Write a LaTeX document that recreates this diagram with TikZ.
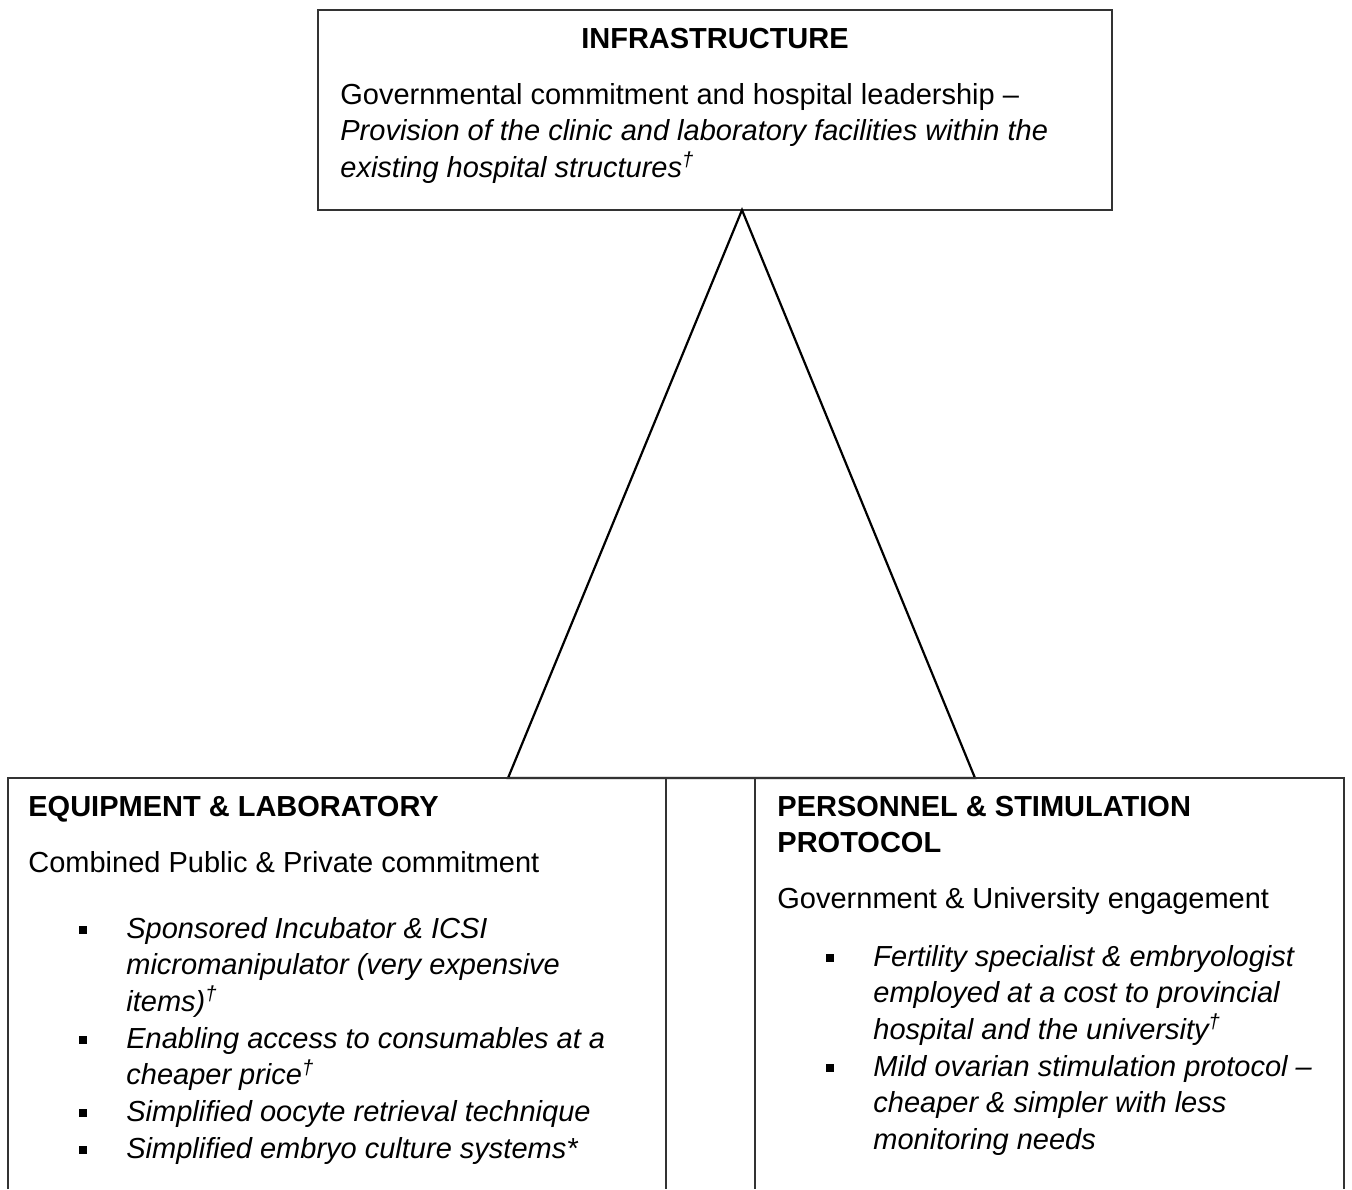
\documentclass[tikz,border=0pt]{standalone}
\usepackage{fontspec}
\setmainfont{Liberation Sans}
\begin{document}
\begin{tikzpicture}[x=0.5pt,y=-0.5pt,
  frame/.style={draw=black!80, line width=0.7pt},
  tri/.style={draw=black, line width=1.1pt, line join=miter},
  txt/.style={anchor=base west, inner sep=0pt, align=left, font=\fontsize{14.5}{18.35}\selectfont},
  head/.style={txt, font=\fontsize{14.5}{18.35}\selectfont\bfseries},
  itxt/.style={txt, font=\fontsize{14.5}{18.35}\selectfont\itshape},
  sq/.style={fill=black, draw=none, rectangle, inner sep=0pt, minimum width=3.6pt, minimum height=4pt}]
\useasboundingbox (0,0) rectangle (1352,1189);

% top box (multi-line nodes are anchored at the baseline of their last line)
\draw[frame] (318,10) rectangle (1112,210);
\node[head, anchor=base] (infratitle) at (715,48) {INFRASTRUCTURE};
\node[txt] (infratext) at (340,177.4) {Governmental commitment and hospital leadership –\\
\textit{Provision of the clinic and laboratory facilities within the}\\
\textit{existing hospital structures\textsuperscript{\textdagger}}};

% triangle
\coordinate (apex) at (742,210);
\coordinate (bl) at (508,778);
\coordinate (br) at (975,778);
\draw[tri] (apex) -- (bl) -- (br) -- cycle;

% bottom table
\draw[frame] (8,1189) -- (8,778) -- (1344,778) -- (1344,1189);
\draw[frame] (666,778) -- (666,1189);
\draw[frame] (755,778) -- (755,1189);

% left column
\node[head] (eqtitle) at (28,816) {EQUIPMENT \& LABORATORY};
\node[txt] (eqsub) at (28,872) {Combined Public \& Private commitment};
\node[itxt] (eqlist) at (126,1158.2) {Sponsored Incubator \& ICSI\\
micromanipulator (very expensive\\
items)\textsuperscript{\textdagger}\\
Enabling access to consumables at a\\
cheaper price\textsuperscript{\textdagger}\\
Simplified oocyte retrieval technique\\
Simplified embryo culture systems*};
\node[sq] (eqb1) at (83,930) {};
\node[sq] (eqb2) at (83,1040) {};
\node[sq] (eqb3) at (83,1113) {};
\node[sq] (eqb4) at (83,1150) {};

% right column
\node[head] (pstitle) at (777,852.7) {PERSONNEL \& STIMULATION\\
PROTOCOL};
\node[txt] (pssub) at (777,908) {Government \& University engagement};
\node[itxt] (pslist) at (873,1149.5) {Fertility specialist \& embryologist\\
employed at a cost to provincial\\
hospital and the university\textsuperscript{\textdagger}\\
Mild ovarian stimulation protocol –\\
cheaper \& simpler with less\\
monitoring needs};
\node[sq] (psb1) at (830,958) {};
\node[sq] (psb2) at (830,1068) {};
\end{tikzpicture}
\end{document}
